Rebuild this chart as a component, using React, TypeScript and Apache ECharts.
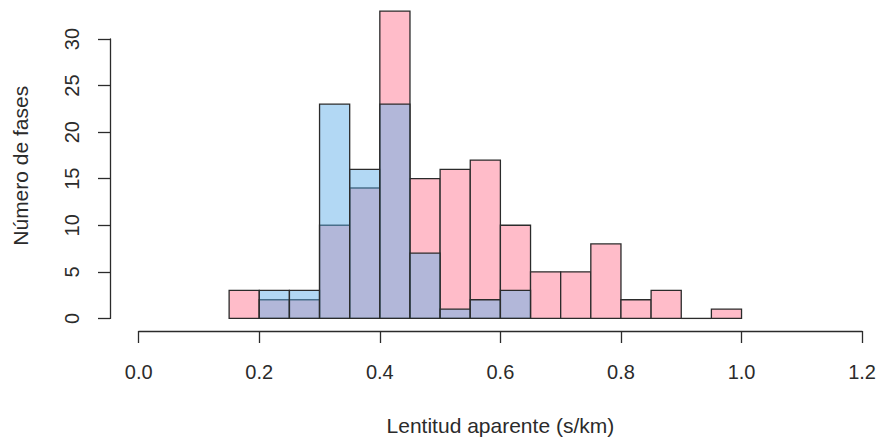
import React, { useEffect, useRef } from "react";
import * as echarts from "echarts";

// Histogram bins (width 0.05 s/km)
const binWidth = 0.05;
const pinkStart = 0.15;
const pinkCounts = [3, 2, 2, 10, 14, 33, 15, 16, 17, 10, 5, 5, 8, 2, 3, 0, 1];
const blueStart = 0.2;
const blueCounts = [3, 3, 23, 16, 23, 7, 1, 2, 3];

const xTicks = [0, 0.2, 0.4, 0.6, 0.8, 1.0, 1.2];
const yTicks = [0, 5, 10, 15, 20, 25, 30];

const xTitle = "Lentitud aparente (s/km)";
const yTitle = "Número de fases";

const FONT = "'Liberation Sans', Arial, Helvetica, sans-serif";
const INK = "#2b2b2b";

function toBins(start: number, counts: number[]) {
  return counts.map((n, i) => {
    const x0 = +(start + i * binWidth).toFixed(4);
    const x1 = +(start + (i + 1) * binWidth).toFixed(4);
    return [x0, x1, n];
  });
}

function histRenderer(fill: string) {
  return (params: any, api: any) => {
    const x0 = api.value(0);
    const x1 = api.value(1);
    const n = api.value(2);
    const base = api.coord([x0, 0]);
    const top = api.coord([x1, n]);
    if (n === 0) {
      return {
        type: "line",
        shape: { x1: base[0], y1: base[1], x2: top[0], y2: base[1] },
        style: { stroke: INK, lineWidth: 1.3 },
      };
    }
    return {
      type: "rect",
      shape: {
        x: base[0],
        y: top[1],
        width: top[0] - base[0],
        height: base[1] - top[1],
      },
      style: { fill, stroke: INK, lineWidth: 1.3 },
    };
  };
}

export default function App() {
  const ref = useRef<HTMLDivElement>(null);

  useEffect(() => {
    document.body.style.margin = "0";
    if (!ref.current) return;
    const chart = echarts.init(ref.current, undefined, { renderer: "svg" });

    const gridTop = 39;
    const gridBottom = 120.3;
    const gridLeft = 138.7;
    const gridRight = 15.3;
    const plotH = 441 - gridTop - gridBottom;
    // y title is centred on the 0..33 data range
    const yTitleY = 441 - gridBottom - (16.5 / 30) * plotH;

    chart.setOption({
      animation: false,
      backgroundColor: "#ffffff",
      textStyle: { fontFamily: FONT },
      grid: { left: gridLeft, right: gridRight, top: gridTop, bottom: gridBottom },
      xAxis: {
        type: "value",
        min: xTicks[0],
        max: xTicks[xTicks.length - 1],
        interval: 0.2,
        offset: 12.6,
        splitLine: { show: false },
        axisLine: { show: true, onZero: false, lineStyle: { color: INK, width: 1.3 } },
        axisTick: { show: true, length: 12, lineStyle: { color: INK, width: 1.3 } },
        axisLabel: {
          formatter: (v: number) => v.toFixed(1),
          fontSize: 20,
          color: INK,
          margin: 31,
          fontFamily: FONT,
        },
        name: xTitle,
        nameLocation: "middle",
        nameGap: 84,
        nameTextStyle: { fontSize: 21, color: INK, fontFamily: FONT },
      },
      yAxis: {
        type: "value",
        min: yTicks[0],
        max: yTicks[yTicks.length - 1],
        interval: 5,
        offset: 28.7,
        splitLine: { show: false },
        axisLine: { show: true, onZero: false, lineStyle: { color: INK, width: 1.3 } },
        axisTick: { show: true, length: 12, lineStyle: { color: INK, width: 1.3 } },
        axisLabel: {
          rotate: 90,
          fontSize: 20,
          color: INK,
          margin: 28,
          fontFamily: FONT,
        },
      },
      graphic: [
        {
          type: "text",
          x: 20,
          y: yTitleY,
          rotation: Math.PI / 2,
          style: {
            text: yTitle,
            fontSize: 21,
            fill: INK,
            fontFamily: FONT,
            textAlign: "center",
            textVerticalAlign: "middle",
          },
        },
      ],
      series: [
        {
          type: "custom",
          renderItem: histRenderer("#ffbcc9"),
          encode: { x: [0, 1], y: 2 },
          data: toBins(pinkStart, pinkCounts),
          clip: false,
        },
        {
          type: "custom",
          renderItem: histRenderer("rgba(101,177,233,0.5)"),
          encode: { x: [0, 1], y: 2 },
          data: toBins(blueStart, blueCounts),
          clip: false,
        },
      ],
    });

    return () => chart.dispose();
  }, []);

  return <div ref={ref} style={{ width: 879, height: 441 }} />;
}
